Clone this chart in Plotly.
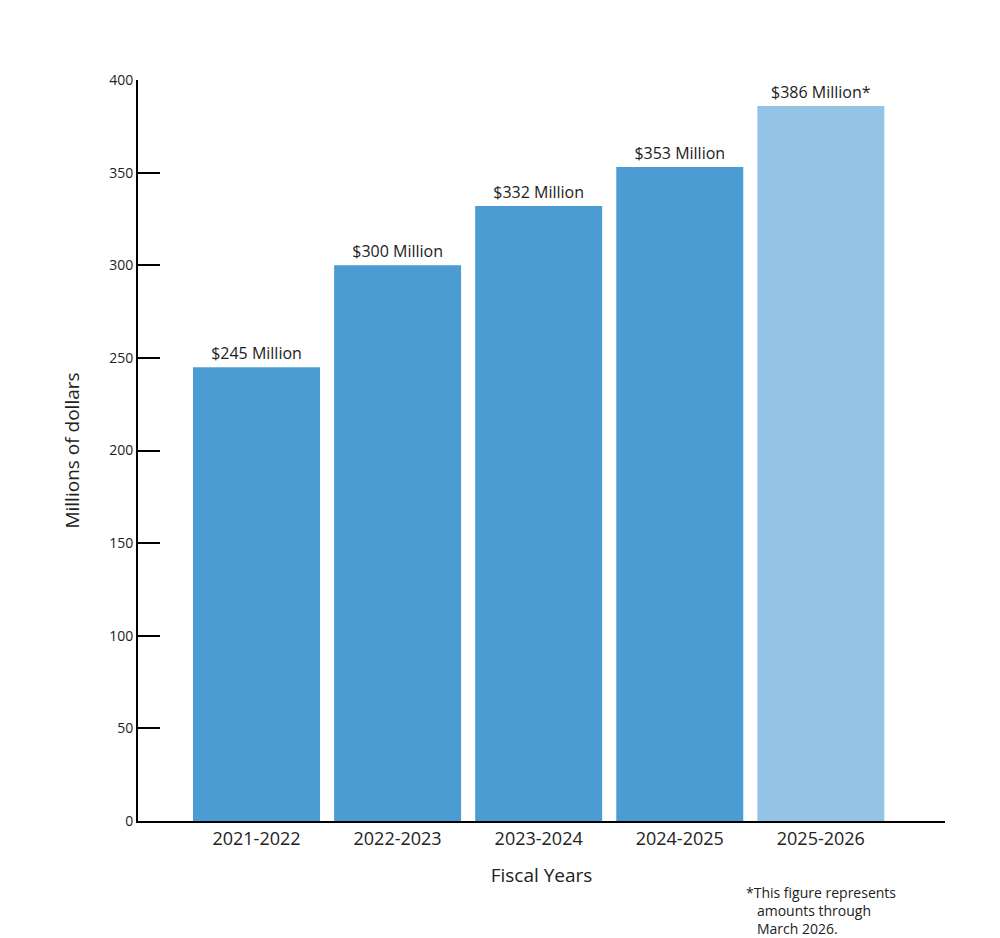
import plotly.graph_objects as go

years = ["2021-2022", "2022-2023", "2023-2024", "2024-2025", "2025-2026"]
values = [245, 300, 332, 353, 386]
labels = ["$245 Million", "$300 Million", "$332 Million", "$353 Million", "$386 Million*"]
colors = ["#4b9cd3", "#4b9cd3", "#4b9cd3", "#4b9cd3", "#93c3e5"]
yticks = [0, 50, 100, 150, 200, 250, 300, 350, 400]

xs = list(range(len(years)))
fig = go.Figure(go.Bar(x=xs, y=values, width=0.9, marker=dict(color=colors, line=dict(width=0)),
                       text=labels, textposition="outside", cliponaxis=False,
                       textfont=dict(size=16, color="#222")))
fig.update_layout(
    width=1000, height=938, margin=dict(l=130, r=63, t=72, b=125),
    plot_bgcolor="white", paper_bgcolor="white", showlegend=False,
    font=dict(family="Open Sans", color="#222"),
    xaxis=dict(range=[-0.84, 4.88], tickvals=xs, ticktext=years, showgrid=False,
               showline=True, linecolor="black", linewidth=2, ticks="",
               tickfont=dict(size=18), zeroline=False,
               title=dict(text="Fiscal Years", font=dict(size=19), standoff=20)),
    yaxis=dict(range=[0, 400], tickvals=yticks, showgrid=False, showline=True,
               linecolor="black", linewidth=2, ticks="inside", ticklen=22, tickwidth=2,
               tickcolor="black", tickfont=dict(size=14), zeroline=False,
               title=dict(text="Millions of dollars", font=dict(size=19), standoff=25)),
    annotations=[dict(x=4, y=0, xref="x", yref="paper", yshift=-60, xanchor="center",
                      yanchor="top", showarrow=False, align="left",
                      text="*This figure represents<br>   amounts through<br>   March 2026.",
                      font=dict(size=14, color="#222"))],
)
fig.write_html("out.html")
